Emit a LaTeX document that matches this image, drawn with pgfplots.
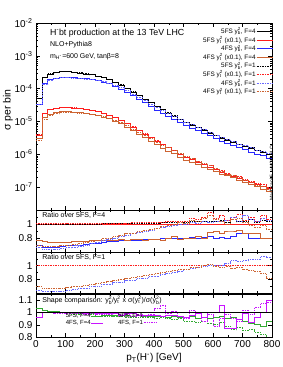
\documentclass[border=0pt]{standalone}
\usepackage{pgfplots}
\pgfplotsset{compat=1.18}
\usepackage{pgfplotstable}
\usepackage{fontspec}
\setmainfont{Liberation Sans}
\definecolor{cR}{RGB}{255,30,30}
\definecolor{cB}{RGB}{40,40,255}
\definecolor{cO}{RGB}{205,100,50}
\definecolor{cG}{RGB}{50,170,50}
\definecolor{cM}{RGB}{200,20,255}
\newcommand{\yb}{y\rlap{\textsubscript{b}}\textsuperscript{2}}
\newcommand{\yt}{y\rlap{\textsubscript{t}}\textsuperscript{2}}

\pgfplotstableread{
x bk rd bl or bkd rdd bld ord
0 4.90e-5 3.89e-6 3.43e-5 3.00e-6 4.90e-5 3.93e-6 3.23e-5 2.72e-6
20 2.19e-4 1.75e-5 1.47e-4 1.31e-5 2.19e-4 1.77e-5 1.38e-4 1.19e-5
40 2.82e-4 2.26e-5 1.89e-4 1.67e-5 2.82e-4 2.28e-5 1.78e-4 1.54e-5
60 3.16e-4 2.55e-5 2.12e-4 1.89e-5 3.16e-4 2.58e-5 2.02e-4 1.73e-5
80 3.31e-4 2.68e-5 2.25e-4 1.98e-5 3.31e-4 2.71e-5 2.15e-4 1.85e-5
100 3.31e-4 2.69e-5 2.28e-4 1.99e-5 3.31e-4 2.72e-5 2.18e-4 1.88e-5
120 3.16e-4 2.58e-5 2.21e-4 1.94e-5 3.16e-4 2.61e-5 2.12e-4 1.83e-5
140 3.02e-4 2.48e-5 2.11e-4 1.86e-5 3.02e-4 2.50e-5 2.05e-4 1.79e-5
160 2.82e-4 2.32e-5 2.00e-4 1.74e-5 2.82e-4 2.34e-5 1.97e-4 1.72e-5
180 2.63e-4 2.18e-5 1.89e-4 1.66e-5 2.63e-4 2.20e-5 1.89e-4 1.64e-5
200 2.40e-4 2.00e-5 1.75e-4 1.52e-5 2.40e-4 2.02e-5 1.78e-4 1.54e-5
220 2.14e-4 1.79e-5 1.58e-4 1.38e-5 2.16e-4 1.81e-5 1.63e-4 1.41e-5
240 1.86e-4 1.56e-5 1.40e-4 1.20e-5 1.88e-4 1.58e-5 1.45e-4 1.25e-5
260 1.58e-4 1.34e-5 1.19e-4 1.03e-5 1.60e-4 1.35e-5 1.26e-4 1.10e-5
280 1.29e-4 1.09e-5 9.80e-5 8.50e-6 1.30e-4 1.10e-5 1.06e-4 9.16e-6
300 1.02e-4 8.71e-6 7.75e-5 6.71e-6 1.03e-4 8.80e-6 8.57e-5 7.49e-6
320 7.94e-5 6.79e-6 6.11e-5 5.30e-6 8.02e-5 6.93e-6 6.83e-5 5.91e-6
340 6.17e-5 5.30e-6 4.75e-5 4.13e-6 6.23e-5 5.41e-6 5.43e-5 4.72e-6
360 4.79e-5 4.13e-6 3.74e-5 3.18e-6 4.84e-5 4.21e-6 4.31e-5 3.76e-6
380 3.72e-5 3.22e-6 2.90e-5 2.51e-6 3.76e-5 3.28e-6 3.39e-5 2.96e-6
400 2.88e-5 2.51e-6 2.25e-5 1.96e-6 2.91e-5 2.56e-6 2.68e-5 2.36e-6
420 2.29e-5 2.00e-6 1.81e-5 1.54e-6 2.34e-5 2.04e-6 2.18e-5 1.92e-6
440 1.82e-5 1.60e-6 1.44e-5 1.26e-6 1.86e-5 1.66e-6 1.75e-5 1.57e-6
460 1.45e-5 1.28e-6 1.16e-5 1.05e-6 1.48e-5 1.33e-6 1.42e-5 1.27e-6
480 1.15e-5 1.02e-6 9.09e-6 7.96e-7 1.17e-5 1.06e-6 1.15e-5 1.04e-6
500 9.33e-6 8.32e-7 7.46e-6 6.66e-7 9.52e-6 8.65e-7 9.33e-6 8.40e-7
520 7.76e-6 6.95e-7 6.29e-6 5.49e-7 7.99e-6 7.51e-7 7.92e-6 7.30e-7
540 6.46e-6 5.81e-7 5.17e-6 4.76e-7 6.65e-6 6.16e-7 6.52e-6 5.98e-7
560 5.37e-6 4.85e-7 4.35e-6 3.88e-7 5.53e-6 5.34e-7 5.53e-6 5.24e-7
580 4.47e-6 4.06e-7 3.71e-6 3.57e-7 4.60e-6 4.71e-7 4.56e-6 4.55e-7
600 3.72e-6 3.39e-7 2.98e-6 3.02e-7 3.83e-6 3.66e-7 3.87e-6 3.59e-7
620 3.16e-6 2.90e-7 2.56e-6 2.52e-7 3.32e-6 3.25e-7 3.25e-6 3.02e-7
640 2.69e-6 2.48e-7 2.13e-6 2.23e-7 2.74e-6 2.60e-7 2.82e-6 2.48e-7
660 2.29e-6 2.12e-7 1.88e-6 1.91e-7 2.43e-6 2.31e-7 2.52e-6 2.25e-7
680 1.95e-6 1.81e-7 1.68e-6 1.65e-7 2.01e-6 2.05e-7 2.03e-6 1.95e-7
700 1.70e-6 1.58e-7 1.46e-6 1.37e-7 1.77e-6 1.66e-7 1.90e-6 1.61e-7
720 1.48e-6 1.39e-7 1.18e-6 1.21e-7 1.58e-6 1.53e-7 1.57e-6 1.36e-7
740 1.29e-6 1.21e-7 1.02e-6 1.04e-7 1.32e-6 1.25e-7 1.33e-6 1.15e-7
760 1.12e-6 1.06e-7 8.96e-7 8.48e-8 1.18e-6 1.19e-7 1.21e-6 1.04e-7
780 9.77e-7 9.29e-8 7.72e-7 7.34e-8 1.01e-6 9.85e-8 1.03e-6 8.55e-8
800 9.77e-7 9.29e-8 7.72e-7 7.34e-8 1.01e-6 9.85e-8 1.03e-6 8.55e-8
}\maintab

\pgfplotstableread{
x bkd rdd bls ors bld2 ord2 bld3 ord3 grs grd mgs mgd
0 1.00 1.01 0.70 0.77 0.66 0.70 0.64 0.69 1.03 1.00 0.96 1.00
20 1.00 1.01 0.67 0.75 0.63 0.68 0.62 0.66 1.02 1.00 1.00 1.00
40 1.00 1.01 0.67 0.74 0.63 0.68 0.62 0.66 1.01 1.00 1.00 1.00
60 1.00 1.01 0.67 0.74 0.64 0.68 0.63 0.66 1.01 0.99 1.00 0.99
80 1.00 1.01 0.68 0.74 0.65 0.69 0.63 0.67 1.00 0.99 1.00 0.99
100 1.00 1.01 0.69 0.74 0.66 0.70 0.64 0.68 1.00 0.99 1.00 0.99
120 1.00 1.01 0.70 0.75 0.67 0.71 0.65 0.69 1.00 0.98 1.00 0.99
140 1.00 1.01 0.70 0.75 0.68 0.72 0.66 0.70 0.99 0.98 1.00 0.99
160 1.00 1.01 0.71 0.75 0.70 0.74 0.67 0.71 0.99 0.98 0.99 0.98
180 1.00 1.01 0.72 0.76 0.72 0.75 0.69 0.72 0.99 0.98 1.00 0.99
200 1.00 1.01 0.73 0.76 0.74 0.77 0.70 0.74 0.99 0.97 0.99 0.98
220 1.01 1.01 0.74 0.77 0.76 0.79 0.72 0.75 0.98 0.97 0.99 0.98
240 1.01 1.01 0.75 0.77 0.78 0.80 0.73 0.77 0.98 0.97 0.99 0.98
260 1.01 1.01 0.75 0.77 0.80 0.82 0.75 0.78 0.98 0.97 0.99 0.99
280 1.01 1.01 0.76 0.78 0.82 0.84 0.76 0.80 0.98 0.97 0.98 0.98
300 1.01 1.01 0.76 0.77 0.84 0.86 0.78 0.81 0.98 0.96 0.99 0.98
320 1.01 1.02 0.77 0.78 0.86 0.87 0.79 0.83 0.97 0.96 0.99 0.97
340 1.01 1.02 0.77 0.78 0.88 0.89 0.81 0.84 0.98 0.96 0.98 0.98
360 1.01 1.02 0.78 0.77 0.90 0.91 0.82 0.86 0.97 0.96 0.98 0.97
380 1.01 1.02 0.78 0.78 0.91 0.92 0.84 0.87 0.97 0.96 0.98 0.98
400 1.01 1.02 0.78 0.78 0.93 0.94 0.85 0.88 0.97 0.95 0.98 1.03
420 1.02 1.02 0.79 0.77 0.95 0.96 0.87 0.90 0.97 0.96 0.97 1.06
440 1.02 1.04 0.79 0.79 0.96 0.98 0.89 0.91 0.96 0.95 0.98 0.99
460 1.02 1.04 0.80 0.82 0.98 0.99 0.90 0.93 0.97 0.94 0.98 1.01
480 1.02 1.04 0.79 0.78 1.00 1.02 0.92 0.94 0.96 0.95 0.97 0.97
500 1.02 1.04 0.80 0.80 1.00 1.01 0.94 0.95 0.96 0.93 0.96 0.95
520 1.03 1.08 0.81 0.79 1.02 1.05 0.96 0.97 0.97 0.93 0.98 1.02
540 1.03 1.06 0.80 0.82 1.01 1.03 0.97 0.98 0.95 0.92 0.99 0.99
560 1.03 1.10 0.81 0.80 1.03 1.08 0.99 1.00 0.96 0.93 0.96 0.93
580 1.03 1.16 0.83 0.88 1.02 1.12 1.00 1.02 0.95 0.91 1.00 0.98
600 1.03 1.08 0.80 0.89 1.04 1.06 1.01 0.99 0.96 0.90 1.00 0.89
620 1.05 1.12 0.81 0.87 1.03 1.04 1.00 0.97 0.97 0.92 1.06 0.95
640 1.02 1.05 0.79 0.90 1.05 1.00 1.03 0.99 0.95 0.89 0.87 0.98
660 1.06 1.09 0.82 0.90 1.10 1.06 1.08 0.96 0.96 0.86 0.87 0.95
680 1.03 1.13 0.86 0.91 1.04 1.08 1.06 0.98 0.94 0.88 0.94 0.93
700 1.04 1.05 0.86 0.87 1.12 1.02 1.07 0.95 0.93 0.85 0.99 1.02
720 1.07 1.10 0.80 0.87 1.06 0.98 1.09 0.93 0.91 0.86 0.92 0.98
740 1.02 1.03 0.79 0.86 1.03 0.95 1.09 0.92 0.90 0.84 0.96 1.04
760 1.05 1.12 0.80 0.80 1.08 0.98 1.13 0.88 0.89 0.82 1.00 1.07
780 1.03 1.06 0.79 0.79 1.05 0.92 1.12 0.82 0.93 0.78 1.10 1.08
800 1.03 1.06 0.79 0.79 1.05 0.92 1.12 0.82 0.93 0.78 1.10 1.08
}\ratiotab

\pgfplotsset{
  panel/.style={
    scale only axis, width=236pt, xmin=0, xmax=800, anchor=south west,
    xtick={0,100,...,800}, minor x tick num=1, tick align=inside,
    major tick length=4pt, minor tick length=2pt,
    every tick/.style={black, line width=0.4pt},
    axis line style={line width=0.5pt},
    ticklabel style={font=\fontsize{10}{12}\selectfont},
    /pgf/number format/assume math mode=true,
    every axis plot/.append style={const plot, line width=0.7pt, mark=none},
  },
  dots/.style={densely dotted, line width=0.8pt},
}

\begin{document}
\begin{tikzpicture}
\useasboundingbox (0,0) rectangle (283pt,367pt);

% main panel
\begin{axis}[panel, at={(36pt,157pt)}, height=187pt,
  ymode=log, ymin=2e-8, ymax=1e-2,
  ytick={1e-7,1e-6,1e-5,1e-4,1e-3,1e-2},
  yticklabels={10\textsuperscript{-7},10\textsuperscript{-6},10\textsuperscript{-5},10\textsuperscript{-4},10\textsuperscript{-3},10\textsuperscript{-2}},
  xticklabels={},
  ylabel={σ per bin},
  ylabel style={at={(rel axis cs:-0.119,0.535)}, anchor=center, font=\fontsize{10.5}{12}\selectfont},
  legend style={draw=none, fill=none, at={(1.005,0.978)}, anchor=north east,
    font=\fontsize{6.4}{7}\selectfont, row sep=0pt, inner sep=0pt,
    nodes={inner sep=0.5pt, text height=5.7pt, text depth=1.9pt}},
  legend cell align=right, legend plot pos=right,
  legend image code/.code={\draw[#1] (0pt,0pt) -- (16pt,0pt);},
]
\addplot[black] table[x=x,y=bk] {\maintab};
\addlegendentry{5FS \yb, F=4}
\addplot[cR] table[x=x,y=rd] {\maintab};
\addlegendentry{5FS \yt\ (x0.1), F=4}
\addplot[cB] table[x=x,y=bl] {\maintab};
\addlegendentry{4FS \yb, F=4}
\addplot[cO] table[x=x,y=or] {\maintab};
\addlegendentry{4FS \yt\ (x0.1), F=4}
\addplot[black, dots] table[x=x,y=bkd] {\maintab};
\addlegendentry{5FS \yb, F=1}
\addplot[cR, dots] table[x=x,y=rdd] {\maintab};
\addlegendentry{5FS \yt\ (x0.1), F=1}
\addplot[cB!70, dots] table[x=x,y=bld] {\maintab};
\addlegendentry{4FS \yb, F=1}
\addplot[cO, dots] table[x=x,y=ord] {\maintab};
\addlegendentry{4FS \yt\ (x0.1), F=1}
\node[anchor=west, font=\fontsize{8.8}{10}\selectfont] at (rel axis cs:0.045,0.947) {H\textsuperscript{-}bt production at the 13 TeV LHC};
\node[anchor=west, font=\fontsize{7}{8}\selectfont] at (rel axis cs:0.045,0.882) {NLO+Pythia8};
\node[anchor=west, font=\fontsize{7}{8}\selectfont] at (rel axis cs:0.045,0.818) {m\textsubscript{H\textsuperscript{-}}=600 GeV, tanβ=8};
\node[rotate=90, anchor=center, xshift=5pt, font=\fontsize{5}{6}\selectfont] at (rel axis cs:1,0.17) {MadGraph5\_aMC@NLO};
\end{axis}

% ratio over 5FS F=4
\begin{axis}[panel, at={(36pt,115pt)}, height=42pt,
  ymin=0.6, ymax=1.2, ytick={0.8,1}, minor ytick={0.7,0.9,1.1},
  xticklabels={},
]
\addplot[black] coordinates {(0,1) (800,1)};
\addplot[cR] coordinates {(0,1) (800,1)};
\addplot[black, dots] table[x=x,y=bkd] {\ratiotab};
\addplot[cR, dots] table[x=x,y=rdd] {\ratiotab};
\addplot[cB] table[x=x,y=bls] {\ratiotab};
\addplot[cO] table[x=x,y=ors] {\ratiotab};
\addplot[cB!70, dots] table[x=x,y=bld2] {\ratiotab};
\addplot[cO, dots] table[x=x,y=ord2] {\ratiotab};
\node[anchor=west, font=\fontsize{7}{8}\selectfont] at (rel axis cs:0.012,0.88) {Ratio over 5FS, F=4};
\end{axis}

% ratio over 5FS F=1
\begin{axis}[panel, at={(36pt,74pt)}, height=41pt,
  ymin=0.6, ymax=1.2, ytick={0.8,1}, minor ytick={0.7,0.9,1.1},
  xticklabels={},
]
\addplot[black, dots] coordinates {(0,1) (800,1)};
\addplot[cR, dots] coordinates {(0,1) (800,1)};
\addplot[cB!70, dots] table[x=x,y=bld3] {\ratiotab};
\addplot[cO, dots] table[x=x,y=ord3] {\ratiotab};
\node[anchor=west, font=\fontsize{7}{8}\selectfont] at (rel axis cs:0.012,0.88) {Ratio over 5FS, F=1};
\end{axis}

% shape comparison
\begin{axis}[panel, at={(36pt,30pt)}, height=43pt,
  ymin=0.8, ymax=1.15, ytick={0.8,0.9,1,1.1},
  xlabel={p\textsubscript{T}(H\textsuperscript{-}) [GeV]},
  xlabel style={at={(rel axis cs:0.5,0)}, anchor=center, yshift=-21pt, font=\fontsize{10}{12}\selectfont},
  legend style={draw=none, fill=none, at={(0.51,0.57)}, anchor=north east,
    font=\fontsize{6}{7}\selectfont, inner sep=0pt, row sep=0pt,
    nodes={inner sep=0.4pt, text height=4.6pt, text depth=1.4pt},
    /tikz/every even column/.append style={column sep=14pt}},
  legend columns=2, legend cell align=right, legend plot pos=right,
  legend image code/.code={\draw[#1] (0pt,0pt) -- (12pt,0pt);},
]
\addplot[cG] table[x=x,y=grs] {\ratiotab};
\addlegendentry{5FS, F=4}
\addplot[cG, dots] table[x=x,y=grd] {\ratiotab};
\addlegendentry{5FS, F=1}
\addplot[cM] table[x=x,y=mgs] {\ratiotab};
\addlegendentry{4FS, F=4}
\addplot[cM, dots] table[x=x,y=mgd] {\ratiotab};
\addlegendentry{4FS, F=1}
\addplot[black, line width=0.6pt, forget plot] coordinates {(0,1) (800,1)};
\node[anchor=west, font=\fontsize{7}{8}\selectfont] at (rel axis cs:0.012,0.85) {Shape comparison: \yb/\yt\ x σ(\yt)/σ(\yb)};
\end{axis}
\end{tikzpicture}
\end{document}
